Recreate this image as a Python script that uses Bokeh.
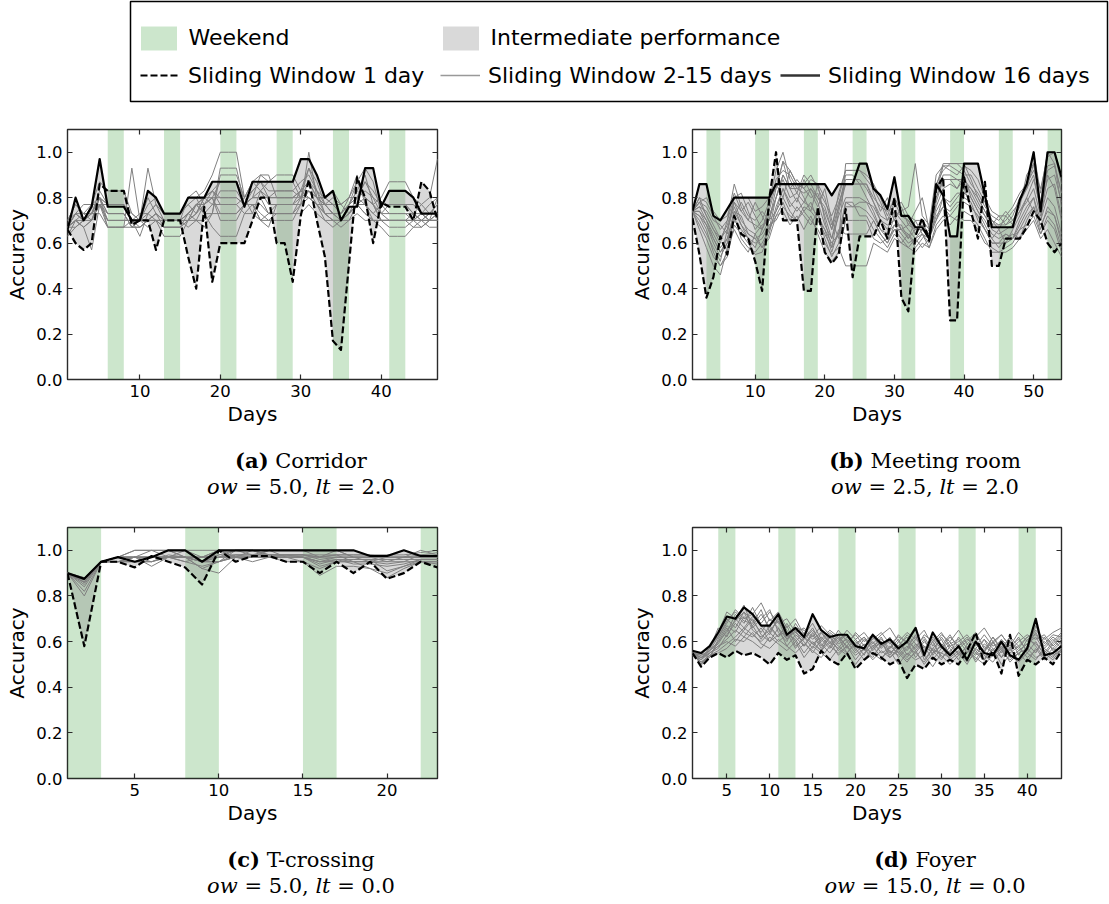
from bokeh.plotting import figure
from bokeh.models import (Range1d, FixedTicker, PrintfTickFormatter, BoxAnnotation,
                          Legend, LegendItem, Div, LinearAxis)
from bokeh.layouts import column, row
from bokeh.embed import file_html
from bokeh.resources import INLINE

# ---------------------------------------------------------------- data
panel_letters = ["a", "b", "c", "d"]
panel_names = ["Corridor", "Meeting room", "T-crossing", "Foyer"]
ow_values = ["5.0", "2.5", "5.0", "15.0"]
lt_values = ["2.0", "2.0", "0.0", "0.0"]
n_days = [47, 54, 23, 44]
x_ticks = [[10, 20, 30, 40], [10, 20, 30, 40, 50], [5, 10, 15, 20], [5, 10, 15, 20, 25, 30, 35, 40]]
y_ticks = [0.0, 0.2, 0.4, 0.6, 0.8, 1.0]
weekend_len = 2
weekend_a = [6, 13, 20, 27, 34, 41]
weekend_b = [3, 10, 17, 24, 31, 38, 45, 52]
weekend_c = [1, 8, 15, 22]
weekend_d = [4, 11, 18, 25, 32, 39]

sw1_a = [0.66, 0.60, 0.57, 0.60, 0.86, 0.83, 0.83, 0.83, 0.68, 0.70,
         0.70, 0.57, 0.70, 0.70, 0.70, 0.54, 0.40, 0.76, 0.43, 0.60,
         0.60, 0.60, 0.60, 0.70, 0.80, 0.80, 0.60, 0.60, 0.43, 0.72,
         0.88, 0.70, 0.54, 0.17, 0.13, 0.51, 0.89, 0.80, 0.60, 0.78,
         0.76, 0.76, 0.76, 0.70, 0.87, 0.83, 0.70]
sw16_a = [0.66, 0.80, 0.70, 0.76, 0.97, 0.76, 0.76, 0.76, 0.70, 0.70,
          0.83, 0.80, 0.73, 0.73, 0.73, 0.80, 0.80, 0.80, 0.87, 0.87,
          0.87, 0.87, 0.76, 0.87, 0.87, 0.87, 0.87, 0.87, 0.87, 0.97,
          0.97, 0.90, 0.80, 0.83, 0.70, 0.76, 0.76, 0.93, 0.93, 0.76,
          0.83, 0.83, 0.83, 0.80, 0.73, 0.73, 0.73]
gray_a = [
    [0.67, 0.73, 0.70, 0.77, 0.80, 0.77, 0.77, 0.77, 0.70, 0.70,
     0.73, 0.77, 0.70, 0.70, 0.70, 0.73, 0.77, 0.80, 0.83, 0.87,
     0.87, 0.87, 0.80, 0.83, 0.87, 0.83, 0.83, 0.83, 0.83, 0.87,
     0.90, 0.83, 0.80, 0.77, 0.73, 0.77, 0.80, 0.83, 0.80, 0.77,
     0.77, 0.77, 0.77, 0.73, 0.70, 0.73, 0.77],
    [0.67, 0.70, 0.67, 0.57, 0.77, 0.73, 0.73, 0.73, 0.67, 0.67,
     0.70, 0.73, 0.67, 0.67, 0.67, 0.70, 0.73, 0.77, 0.80, 0.80,
     0.80, 0.80, 0.77, 0.80, 0.83, 0.80, 0.80, 0.80, 0.80, 0.83,
     0.87, 0.80, 0.77, 0.73, 0.70, 0.73, 0.77, 0.80, 0.77, 0.73,
     0.70, 0.70, 0.70, 0.70, 0.67, 0.70, 0.73],
    [0.70, 0.77, 0.73, 0.73, 0.80, 0.67, 0.67, 0.67, 0.93, 0.70,
     0.67, 0.70, 0.63, 0.63, 0.63, 0.70, 0.77, 0.73, 0.77, 0.77,
     0.77, 0.77, 0.73, 0.77, 0.70, 0.67, 0.77, 0.77, 0.77, 0.80,
     0.80, 0.77, 0.73, 0.70, 0.70, 0.73, 0.77, 0.77, 0.73, 0.70,
     0.67, 0.67, 0.67, 0.70, 0.73, 0.70, 0.70],
    [0.67, 0.73, 0.73, 0.77, 0.87, 0.83, 0.83, 0.83, 0.73, 0.70,
     0.93, 0.77, 0.73, 0.73, 0.73, 0.77, 0.80, 0.83, 0.90, 1.00,
     1.00, 1.00, 0.80, 0.87, 0.90, 0.87, 0.90, 0.90, 0.90, 0.83,
     0.80, 0.77, 0.77, 0.80, 0.77, 0.80, 0.87, 0.80, 0.77, 0.80,
     0.87, 0.87, 0.87, 0.80, 0.77, 0.80, 0.97],
    [0.63, 0.67, 0.70, 0.70, 0.77, 0.77, 0.77, 0.77, 0.70, 0.63,
     0.73, 0.70, 0.70, 0.70, 0.70, 0.67, 0.70, 0.70, 0.73, 0.93,
     0.93, 0.93, 0.77, 0.80, 0.80, 0.73, 0.73, 0.73, 0.73, 0.77,
     1.00, 0.80, 0.73, 0.70, 0.70, 0.77, 0.83, 0.90, 0.77, 0.70,
     0.70, 0.70, 0.70, 0.67, 0.67, 0.70, 0.80],
    [0.67, 0.70, 0.67, 0.70, 0.80, 0.73, 0.73, 0.73, 0.67, 0.70,
     0.70, 0.73, 0.70, 0.70, 0.70, 0.73, 0.70, 0.67, 0.73, 0.90,
     0.90, 0.90, 0.80, 0.73, 0.83, 0.87, 0.87, 0.87, 0.87, 0.80,
     0.93, 0.83, 0.77, 0.73, 0.73, 0.80, 0.90, 0.77, 0.73, 0.77,
     0.73, 0.73, 0.73, 0.73, 0.70, 0.73, 0.73],
    [0.70, 0.73, 0.70, 0.73, 0.80, 0.70, 0.70, 0.70, 0.70, 0.67,
     0.70, 0.70, 0.70, 0.70, 0.70, 0.70, 0.73, 0.80, 0.77, 0.83,
     0.83, 0.83, 0.77, 0.77, 0.73, 0.70, 0.70, 0.70, 0.70, 0.77,
     0.83, 0.77, 0.70, 0.70, 0.67, 0.70, 0.73, 0.70, 0.70, 0.70,
     0.70, 0.70, 0.70, 0.70, 0.70, 0.70, 0.70],
    [0.67, 0.73, 0.77, 0.77, 0.77, 0.67, 0.67, 0.67, 0.70, 0.70,
     0.80, 0.73, 0.70, 0.70, 0.70, 0.80, 0.83, 0.77, 0.80, 0.70,
     0.70, 0.70, 0.77, 0.83, 0.87, 0.80, 0.80, 0.80, 0.80, 0.80,
     0.83, 0.80, 0.80, 0.77, 0.77, 0.73, 0.80, 0.87, 0.83, 0.77,
     0.77, 0.77, 0.77, 0.73, 0.73, 0.70, 0.70],
    [0.67, 0.70, 0.73, 0.73, 0.83, 0.77, 0.77, 0.77, 0.73, 0.70,
     0.77, 0.80, 0.73, 0.73, 0.73, 0.77, 0.73, 0.80, 0.83, 0.77,
     0.77, 0.77, 0.80, 0.87, 0.83, 0.77, 0.77, 0.77, 0.77, 0.83,
     0.93, 0.87, 0.77, 0.73, 0.70, 0.77, 0.87, 0.93, 0.87, 0.73,
     0.77, 0.77, 0.77, 0.77, 0.73, 0.77, 0.80],
    [0.67, 0.67, 0.70, 0.73, 0.73, 0.67, 0.67, 0.67, 0.67, 0.67,
     0.70, 0.70, 0.67, 0.67, 0.67, 0.70, 0.77, 0.73, 0.67, 0.63,
     0.63, 0.63, 0.73, 0.73, 0.70, 0.70, 0.73, 0.73, 0.73, 0.73,
     0.77, 0.73, 0.70, 0.67, 0.70, 0.70, 0.77, 0.73, 0.70, 0.67,
     0.63, 0.63, 0.63, 0.67, 0.70, 0.67, 0.67],
    [0.70, 0.77, 0.73, 0.70, 0.80, 0.77, 0.77, 0.77, 0.70, 0.73,
     0.73, 0.77, 0.73, 0.73, 0.73, 0.80, 0.80, 0.73, 0.73, 0.73,
     0.73, 0.73, 0.77, 0.80, 0.90, 0.90, 0.80, 0.80, 0.80, 0.83,
     0.87, 0.80, 0.80, 0.83, 0.77, 0.80, 0.80, 0.87, 0.80, 0.73,
     0.73, 0.73, 0.73, 0.70, 0.73, 0.70, 0.73],
    [0.67, 0.73, 0.70, 0.73, 0.80, 0.73, 0.73, 0.73, 0.67, 0.70,
     0.70, 0.73, 0.70, 0.70, 0.70, 0.73, 0.77, 0.77, 0.80, 0.87,
     0.87, 0.87, 0.77, 0.80, 0.80, 0.80, 0.83, 0.83, 0.83, 0.80,
     0.83, 0.80, 0.77, 0.77, 0.73, 0.77, 0.83, 0.80, 0.77, 0.70,
     0.70, 0.70, 0.70, 0.70, 0.70, 0.70, 0.70],
    [0.63, 0.70, 0.70, 0.73, 0.77, 0.70, 0.70, 0.70, 0.70, 0.70,
     0.70, 0.70, 0.67, 0.67, 0.67, 0.73, 0.77, 0.80, 0.80, 0.73,
     0.73, 0.73, 0.77, 0.77, 0.70, 0.73, 0.77, 0.77, 0.77, 0.77,
     0.80, 0.77, 0.73, 0.73, 0.73, 0.77, 0.80, 0.77, 0.70, 0.70,
     0.70, 0.70, 0.70, 0.73, 0.77, 0.73, 0.77],
    [0.67, 0.70, 0.67, 0.70, 0.77, 0.70, 0.70, 0.70, 0.70, 0.70,
     0.70, 0.70, 0.70, 0.70, 0.70, 0.70, 0.70, 0.77, 0.83, 0.80,
     0.80, 0.80, 0.77, 0.77, 0.77, 0.73, 0.73, 0.73, 0.73, 0.80,
     0.87, 0.83, 0.73, 0.70, 0.70, 0.73, 0.77, 0.73, 0.70, 0.70,
     0.70, 0.70, 0.70, 0.70, 0.70, 0.70, 0.70],
]

sw1_b = [0.71, 0.55, 0.36, 0.45, 0.63, 0.55, 0.72, 0.64, 0.62, 0.52,
         0.39, 0.79, 1.00, 0.70, 0.70, 0.70, 0.39, 0.39, 0.76, 0.56,
         0.51, 0.55, 0.75, 0.45, 0.63, 0.63, 0.63, 0.70, 0.62, 0.80,
         0.36, 0.30, 0.63, 0.71, 0.61, 0.84, 0.89, 0.26, 0.26, 0.89,
         0.74, 0.62, 0.87, 0.50, 0.50, 0.62, 0.62, 0.62, 0.67, 0.74,
         0.70, 0.60, 0.56, 0.60]
sw16_b = [0.74, 0.86, 0.86, 0.72, 0.70, 0.75, 0.80, 0.80, 0.80, 0.80,
          0.80, 0.80, 0.86, 0.86, 0.86, 0.86, 0.86, 0.86, 0.86, 0.86,
          0.81, 0.86, 0.86, 0.86, 0.95, 0.95, 0.84, 0.81, 0.75, 0.89,
          0.72, 0.72, 0.67, 0.67, 0.62, 0.86, 0.81, 0.63, 0.63, 0.95,
          0.95, 0.95, 0.81, 0.67, 0.67, 0.67, 0.67, 0.79, 0.86, 1.00,
          0.74, 1.00, 1.00, 0.89]
gray_b = [
    [0.74, 0.80, 0.72, 0.66, 0.60, 0.70, 0.86, 0.76, 0.70, 0.78,
     0.72, 0.66, 0.80, 0.90, 0.84, 0.78, 0.88, 0.82, 0.76, 0.84,
     0.70, 0.62, 0.95, 0.95, 0.95, 0.95, 0.82, 0.74, 0.80, 0.70,
     0.76, 0.68, 0.74, 0.80, 0.66, 0.85, 0.95, 0.95, 0.95, 0.95,
     0.88, 0.80, 0.74, 0.70, 0.66, 0.72, 0.68, 0.78, 0.84, 1.00,
     0.82, 1.00, 1.00, 0.86],
    [0.74, 0.70, 0.64, 0.58, 0.52, 0.66, 0.76, 0.68, 0.62, 0.58,
     0.66, 0.74, 0.86, 0.80, 0.92, 0.86, 0.80, 0.74, 0.86, 0.70,
     0.58, 0.74, 0.86, 0.86, 0.86, 0.80, 0.74, 0.66, 0.62, 0.72,
     0.66, 0.62, 0.70, 0.64, 0.60, 0.78, 0.88, 0.88, 0.84, 0.90,
     0.80, 0.74, 0.68, 0.62, 0.66, 0.60, 0.66, 0.72, 0.80, 0.74,
     0.70, 0.90, 0.84, 0.70],
    [0.74, 0.66, 0.58, 0.50, 0.46, 0.58, 0.66, 0.60, 0.56, 0.64,
     0.58, 0.62, 0.72, 0.78, 0.70, 0.76, 0.72, 0.68, 0.74, 0.62,
     0.54, 0.60, 0.78, 0.78, 0.72, 0.72, 0.66, 0.62, 0.58, 0.64,
     0.60, 0.64, 0.58, 0.62, 0.66, 0.70, 0.80, 0.76, 0.80, 0.84,
     0.76, 0.72, 0.66, 0.60, 0.60, 0.64, 0.62, 0.68, 0.74, 0.80,
     0.66, 0.76, 0.72, 0.60],
    [0.74, 0.78, 0.76, 0.70, 0.68, 0.64, 0.80, 0.82, 0.74, 0.66,
     0.70, 0.78, 0.92, 1.00, 0.88, 0.82, 0.90, 0.86, 0.80, 0.76,
     0.66, 0.82, 0.92, 0.92, 0.92, 0.88, 0.84, 0.78, 0.70, 0.78,
     0.72, 0.70, 0.64, 0.70, 0.62, 0.86, 0.92, 0.95, 0.95, 0.92,
     0.86, 0.82, 0.76, 0.72, 0.70, 0.74, 0.70, 0.76, 0.90, 0.95,
     0.78, 1.00, 0.95, 0.82],
    [0.74, 0.72, 0.66, 0.56, 0.50, 0.54, 0.68, 0.64, 0.60, 0.55,
     0.56, 0.64, 0.76, 0.84, 0.76, 0.80, 0.74, 0.78, 0.70, 0.66,
     0.56, 0.66, 0.64, 0.64, 0.64, 0.64, 0.70, 0.64, 0.60, 0.68,
     0.64, 0.60, 0.62, 0.58, 0.62, 0.72, 0.76, 0.72, 0.76, 0.80,
     0.78, 0.70, 0.66, 0.62, 0.58, 0.62, 0.64, 0.62, 0.70, 0.76,
     0.64, 0.70, 0.66, 0.56],
    [0.74, 0.76, 0.70, 0.64, 0.58, 0.62, 0.72, 0.78, 0.72, 0.70,
     0.74, 0.70, 0.84, 0.96, 0.84, 0.88, 0.84, 0.80, 0.82, 0.72,
     0.62, 0.76, 0.90, 0.90, 0.86, 0.86, 0.78, 0.70, 0.66, 0.74,
     0.70, 0.66, 0.62, 0.66, 0.64, 0.80, 0.90, 0.90, 0.88, 0.86,
     0.84, 0.78, 0.72, 0.68, 0.72, 0.68, 0.72, 0.80, 0.84, 0.90,
     0.74, 0.94, 0.95, 0.76],
    [0.74, 0.74, 0.68, 0.60, 0.54, 0.60, 0.70, 0.66, 0.62, 0.60,
     0.62, 0.68, 0.70, 0.76, 0.72, 0.70, 0.74, 0.70, 0.66, 0.60,
     0.55, 0.58, 0.50, 0.50, 0.50, 0.50, 0.60, 0.58, 0.56, 0.62,
     0.60, 0.58, 0.56, 0.60, 0.58, 0.66, 0.70, 0.72, 0.70, 0.74,
     0.72, 0.68, 0.62, 0.56, 0.56, 0.56, 0.58, 0.62, 0.66, 0.70,
     0.62, 0.66, 0.60, 0.54],
    [0.74, 0.78, 0.80, 0.74, 0.70, 0.72, 0.82, 0.74, 0.78, 0.72,
     0.66, 0.76, 0.88, 0.92, 0.90, 0.84, 0.86, 0.90, 0.84, 0.78,
     0.72, 0.80, 0.92, 0.92, 0.92, 0.90, 0.86, 0.80, 0.72, 0.80,
     0.74, 0.76, 0.95, 0.72, 0.68, 0.90, 0.94, 0.92, 0.90, 0.94,
     0.92, 0.88, 0.80, 0.74, 0.72, 0.72, 0.76, 0.82, 0.86, 0.92,
     0.84, 0.98, 1.00, 0.90],
    [0.74, 0.68, 0.62, 0.54, 0.50, 0.56, 0.72, 0.62, 0.58, 0.56,
     0.60, 0.66, 0.72, 0.74, 0.68, 0.72, 0.66, 0.72, 0.64, 0.56,
     0.52, 0.56, 0.70, 0.70, 0.70, 0.70, 0.62, 0.60, 0.62, 0.66,
     0.62, 0.58, 0.62, 0.64, 0.58, 0.68, 0.72, 0.68, 0.72, 0.70,
     0.70, 0.66, 0.60, 0.58, 0.56, 0.58, 0.60, 0.66, 0.68, 0.72,
     0.64, 0.72, 0.68, 0.58],
    [0.74, 0.76, 0.74, 0.68, 0.62, 0.68, 0.78, 0.70, 0.66, 0.64,
     0.68, 0.70, 0.80, 0.88, 0.80, 0.82, 0.78, 0.84, 0.78, 0.68,
     0.62, 0.72, 0.80, 0.80, 0.80, 0.78, 0.76, 0.70, 0.68, 0.70,
     0.66, 0.68, 0.66, 0.68, 0.64, 0.76, 0.84, 0.86, 0.84, 0.88,
     0.82, 0.76, 0.72, 0.66, 0.64, 0.66, 0.68, 0.74, 0.78, 0.84,
     0.72, 0.84, 0.86, 0.72],
    [0.74, 0.72, 0.68, 0.62, 0.56, 0.60, 0.74, 0.72, 0.64, 0.62,
     0.64, 0.70, 0.74, 0.84, 0.78, 0.74, 0.78, 0.76, 0.72, 0.66,
     0.60, 0.64, 0.78, 0.76, 0.78, 0.78, 0.72, 0.66, 0.64, 0.68,
     0.68, 0.62, 0.66, 0.66, 0.62, 0.74, 0.80, 0.78, 0.82, 0.82,
     0.80, 0.74, 0.70, 0.64, 0.62, 0.64, 0.62, 0.70, 0.76, 0.80,
     0.70, 0.80, 0.76, 0.64],
    [0.74, 0.80, 0.78, 0.72, 0.66, 0.70, 0.80, 0.80, 0.80, 0.74,
     0.76, 0.80, 0.84, 0.96, 0.92, 0.86, 0.84, 0.88, 0.86, 0.80,
     0.68, 0.78, 0.86, 0.86, 0.86, 0.86, 0.80, 0.76, 0.74, 0.76,
     0.78, 0.72, 0.70, 0.70, 0.66, 0.82, 0.94, 0.94, 0.92, 0.90,
     0.90, 0.84, 0.78, 0.70, 0.68, 0.70, 0.74, 0.78, 0.84, 0.95,
     0.76, 0.92, 0.94, 0.82],
    [0.74, 0.74, 0.70, 0.62, 0.56, 0.62, 0.74, 0.68, 0.64, 0.62,
     0.58, 0.66, 0.74, 0.80, 0.74, 0.70, 0.76, 0.74, 0.70, 0.64,
     0.58, 0.64, 0.76, 0.76, 0.76, 0.74, 0.70, 0.64, 0.60, 0.66,
     0.66, 0.64, 0.60, 0.64, 0.62, 0.70, 0.76, 0.74, 0.78, 0.78,
     0.76, 0.72, 0.66, 0.60, 0.60, 0.60, 0.62, 0.66, 0.72, 0.76,
     0.68, 0.74, 0.72, 0.62],
    [0.74, 0.78, 0.72, 0.66, 0.62, 0.66, 0.78, 0.74, 0.70, 0.68,
     0.66, 0.72, 0.80, 0.90, 0.84, 0.84, 0.82, 0.84, 0.80, 0.74,
     0.66, 0.76, 0.88, 0.88, 0.88, 0.84, 0.78, 0.72, 0.70, 0.74,
     0.72, 0.70, 0.66, 0.66, 0.64, 0.80, 0.88, 0.88, 0.88, 0.88,
     0.84, 0.80, 0.74, 0.68, 0.68, 0.68, 0.70, 0.74, 0.80, 0.88,
     0.76, 0.88, 0.90, 0.78],
]

sw1_c = [0.90, 0.58, 0.95, 0.95, 0.925, 0.975, 0.95, 0.925, 0.85, 1.00,
         0.95, 0.975, 0.975, 0.95, 0.95, 0.90, 0.95, 0.90, 0.95, 0.875,
         0.90, 0.95, 0.925]
sw16_c = [0.90, 0.875, 0.95, 0.97, 0.95, 0.97, 1.00, 1.00, 0.95, 1.00,
          1.00, 1.00, 1.00, 1.00, 1.00, 1.00, 1.00, 1.00, 0.975, 0.975,
          1.00, 0.975, 0.975]
gray_c = [
    [0.90, 0.86, 0.95, 0.97, 1.00, 1.00, 0.97, 0.97, 0.95, 0.97, 1.00, 1.00, 0.97, 0.97, 0.97, 0.95, 0.97, 0.97, 0.97, 0.95, 0.97, 0.97, 0.97],
    [0.90, 0.80, 0.95, 0.95, 0.97, 1.00, 1.00, 0.97, 0.92, 0.90, 0.97, 0.97, 0.97, 0.97, 0.95, 0.92, 0.95, 0.95, 0.92, 0.90, 0.93, 0.95, 0.95],
    [0.90, 0.88, 0.95, 0.97, 0.97, 0.93, 0.97, 1.00, 0.97, 1.00, 0.97, 0.97, 1.00, 0.97, 0.97, 0.97, 1.00, 0.97, 0.95, 0.97, 0.97, 1.00, 0.98],
    [0.90, 0.87, 0.95, 0.97, 0.95, 0.97, 1.00, 1.00, 0.95, 0.97, 0.97, 0.97, 0.97, 0.97, 0.97, 0.93, 0.95, 0.96, 0.96, 0.96, 0.96, 0.96, 0.96],
    [0.90, 0.82, 0.95, 0.95, 0.95, 0.97, 0.97, 0.95, 0.93, 0.95, 0.97, 0.95, 0.97, 0.95, 0.95, 0.89, 0.93, 0.93, 0.92, 0.88, 0.92, 0.95, 0.94],
    [0.90, 0.87, 0.95, 0.97, 0.97, 0.97, 0.97, 0.97, 0.95, 0.98, 1.00, 0.98, 1.00, 1.00, 1.00, 0.97, 0.97, 0.97, 0.97, 0.97, 0.97, 0.97, 0.97],
    [0.90, 0.86, 0.95, 0.95, 0.97, 0.95, 0.98, 0.97, 0.97, 0.98, 0.98, 0.98, 0.98, 0.98, 0.98, 0.97, 0.98, 0.95, 0.95, 0.95, 0.95, 0.98, 0.99],
    [0.90, 0.88, 0.95, 0.97, 0.97, 0.97, 1.00, 1.00, 1.00, 1.00, 1.00, 1.00, 1.00, 1.00, 1.00, 1.00, 1.00, 0.97, 0.97, 0.97, 1.00, 0.97, 0.97],
    [0.90, 0.84, 0.95, 0.95, 0.95, 0.95, 0.97, 0.97, 0.92, 0.95, 0.98, 0.97, 0.97, 0.97, 0.97, 0.94, 0.96, 0.94, 0.94, 0.93, 0.94, 0.96, 0.96],
    [0.90, 0.87, 0.95, 0.97, 0.97, 0.97, 0.97, 0.95, 0.97, 1.00, 0.97, 1.00, 0.98, 0.98, 0.98, 0.98, 0.98, 0.98, 0.98, 0.98, 0.98, 0.99, 1.00],
    [0.90, 0.85, 0.95, 0.97, 0.95, 0.95, 0.97, 0.97, 0.95, 0.95, 0.97, 0.97, 0.97, 0.97, 0.97, 0.95, 0.95, 0.95, 0.95, 0.94, 0.95, 0.95, 0.95],
    [0.90, 0.86, 0.95, 0.95, 0.97, 0.97, 0.97, 0.97, 0.97, 0.97, 0.97, 0.97, 0.97, 0.98, 0.97, 0.95, 0.96, 0.96, 0.96, 0.91, 0.93, 0.96, 0.96],
    [0.90, 0.87, 0.95, 0.97, 1.00, 1.00, 1.00, 0.97, 0.95, 0.95, 1.00, 1.00, 0.98, 0.98, 0.98, 0.96, 0.97, 0.97, 0.97, 0.97, 0.97, 0.97, 0.97],
    [0.90, 0.86, 0.95, 0.97, 0.97, 0.97, 0.97, 0.97, 0.97, 0.97, 0.98, 0.98, 0.98, 0.98, 0.98, 0.97, 0.98, 0.98, 0.98, 0.97, 0.97, 0.98, 0.98],
]

sw1_d = [0.55, 0.49, 0.53, 0.55, 0.53, 0.56, 0.54, 0.55, 0.53, 0.50,
         0.55, 0.52, 0.54, 0.46, 0.48, 0.56, 0.52, 0.50, 0.55, 0.48,
         0.52, 0.55, 0.53, 0.50, 0.52, 0.44, 0.50, 0.48, 0.53, 0.50,
         0.52, 0.50, 0.56, 0.64, 0.50, 0.56, 0.46, 0.63, 0.45, 0.52,
         0.50, 0.53, 0.50, 0.56]
sw16_d = [0.56, 0.55, 0.58, 0.64, 0.71, 0.70, 0.75, 0.72, 0.67, 0.67,
          0.72, 0.63, 0.66, 0.62, 0.72, 0.65, 0.62, 0.63, 0.63, 0.58,
          0.57, 0.63, 0.59, 0.61, 0.57, 0.60, 0.66, 0.54, 0.64, 0.58,
          0.54, 0.58, 0.52, 0.60, 0.55, 0.54, 0.60, 0.54, 0.52, 0.57,
          0.70, 0.54, 0.55, 0.58]
gray_d = [
    [0.55, 0.52, 0.57, 0.63, 0.70, 0.66, 0.73, 0.69, 0.64, 0.70,
     0.66, 0.61, 0.65, 0.58, 0.63, 0.57, 0.62, 0.56, 0.60, 0.55,
     0.59, 0.54, 0.58, 0.62, 0.55, 0.60, 0.53, 0.58, 0.52, 0.57,
     0.60, 0.54, 0.58, 0.51, 0.56, 0.60, 0.53, 0.57, 0.62, 0.55,
     0.60, 0.54, 0.59, 0.63],
    [0.55, 0.55, 0.53, 0.60, 0.64, 0.72, 0.68, 0.75, 0.67, 0.63,
     0.71, 0.65, 0.60, 0.64, 0.59, 0.62, 0.58, 0.63, 0.57, 0.61,
     0.56, 0.60, 0.55, 0.57, 0.61, 0.54, 0.59, 0.55, 0.60, 0.53,
     0.56, 0.59, 0.52, 0.57, 0.61, 0.54, 0.58, 0.53, 0.56, 0.59,
     0.55, 0.62, 0.56, 0.60],
    [0.56, 0.50, 0.55, 0.58, 0.61, 0.65, 0.62, 0.67, 0.72, 0.66,
     0.62, 0.67, 0.58, 0.61, 0.66, 0.59, 0.55, 0.60, 0.63, 0.56,
     0.61, 0.57, 0.62, 0.55, 0.58, 0.62, 0.56, 0.61, 0.54, 0.59,
     0.55, 0.62, 0.57, 0.54, 0.59, 0.56, 0.61, 0.57, 0.52, 0.58,
     0.64, 0.57, 0.61, 0.57],
    [0.55, 0.53, 0.57, 0.66, 0.62, 0.70, 0.76, 0.66, 0.70, 0.74,
     0.64, 0.60, 0.68, 0.62, 0.57, 0.64, 0.60, 0.57, 0.62, 0.59,
     0.54, 0.62, 0.58, 0.60, 0.53, 0.57, 0.63, 0.52, 0.57, 0.61,
     0.54, 0.58, 0.62, 0.56, 0.52, 0.60, 0.55, 0.60, 0.57, 0.62,
     0.58, 0.53, 0.57, 0.61],
    [0.54, 0.51, 0.54, 0.56, 0.59, 0.62, 0.66, 0.63, 0.60, 0.64,
     0.60, 0.63, 0.61, 0.55, 0.60, 0.56, 0.60, 0.54, 0.58, 0.52,
     0.57, 0.55, 0.52, 0.58, 0.55, 0.51, 0.56, 0.50, 0.55, 0.58,
     0.52, 0.55, 0.50, 0.57, 0.54, 0.51, 0.56, 0.52, 0.55, 0.51,
     0.57, 0.52, 0.55, 0.58],
    [0.55, 0.54, 0.58, 0.62, 0.68, 0.74, 0.70, 0.72, 0.77, 0.69,
     0.73, 0.66, 0.70, 0.63, 0.68, 0.61, 0.65, 0.62, 0.58, 0.64,
     0.60, 0.63, 0.57, 0.61, 0.58, 0.63, 0.59, 0.56, 0.62, 0.58,
     0.63, 0.57, 0.60, 0.64, 0.57, 0.59, 0.63, 0.58, 0.61, 0.56,
     0.67, 0.59, 0.63, 0.62],
    [0.56, 0.52, 0.56, 0.60, 0.66, 0.60, 0.65, 0.70, 0.63, 0.60,
     0.66, 0.58, 0.63, 0.60, 0.55, 0.61, 0.57, 0.62, 0.55, 0.59,
     0.62, 0.56, 0.60, 0.54, 0.60, 0.56, 0.61, 0.58, 0.55, 0.62,
     0.57, 0.52, 0.59, 0.55, 0.61, 0.57, 0.53, 0.60, 0.56, 0.59,
     0.62, 0.56, 0.53, 0.59],
    [0.55, 0.53, 0.55, 0.58, 0.60, 0.58, 0.62, 0.60, 0.57, 0.62,
     0.59, 0.56, 0.60, 0.53, 0.58, 0.55, 0.52, 0.57, 0.54, 0.50,
     0.55, 0.58, 0.53, 0.56, 0.50, 0.55, 0.52, 0.54, 0.49, 0.55,
     0.53, 0.56, 0.51, 0.55, 0.52, 0.57, 0.50, 0.54, 0.51, 0.55,
     0.52, 0.57, 0.54, 0.56],
    [0.55, 0.55, 0.57, 0.64, 0.73, 0.70, 0.66, 0.71, 0.68, 0.73,
     0.68, 0.70, 0.64, 0.66, 0.62, 0.67, 0.63, 0.60, 0.65, 0.61,
     0.64, 0.59, 0.63, 0.66, 0.60, 0.64, 0.61, 0.65, 0.58, 0.63,
     0.60, 0.65, 0.59, 0.62, 0.66, 0.60, 0.63, 0.58, 0.64, 0.60,
     0.65, 0.61, 0.64, 0.66],
    [0.54, 0.52, 0.55, 0.57, 0.63, 0.68, 0.64, 0.62, 0.66, 0.60,
     0.63, 0.64, 0.57, 0.62, 0.59, 0.56, 0.62, 0.58, 0.55, 0.60,
     0.57, 0.53, 0.59, 0.56, 0.54, 0.58, 0.55, 0.60, 0.56, 0.52,
     0.58, 0.55, 0.57, 0.52, 0.58, 0.55, 0.59, 0.55, 0.58, 0.53,
     0.56, 0.60, 0.57, 0.55],
    [0.55, 0.51, 0.53, 0.61, 0.67, 0.64, 0.71, 0.67, 0.61, 0.67,
     0.62, 0.68, 0.62, 0.58, 0.64, 0.58, 0.63, 0.59, 0.61, 0.57,
     0.52, 0.57, 0.60, 0.53, 0.57, 0.53, 0.58, 0.62, 0.56, 0.55,
     0.59, 0.61, 0.55, 0.60, 0.56, 0.62, 0.57, 0.62, 0.54, 0.61,
     0.59, 0.55, 0.60, 0.64],
    [0.55, 0.54, 0.56, 0.59, 0.65, 0.69, 0.73, 0.65, 0.62, 0.65,
     0.69, 0.61, 0.66, 0.65, 0.61, 0.64, 0.59, 0.65, 0.60, 0.63,
     0.58, 0.61, 0.64, 0.59, 0.62, 0.60, 0.57, 0.63, 0.60, 0.64,
     0.58, 0.60, 0.63, 0.58, 0.63, 0.58, 0.60, 0.56, 0.60, 0.63,
     0.61, 0.63, 0.58, 0.62],
    [0.55, 0.50, 0.54, 0.55, 0.57, 0.61, 0.60, 0.64, 0.59, 0.57,
     0.61, 0.58, 0.55, 0.59, 0.56, 0.53, 0.58, 0.55, 0.58, 0.54,
     0.57, 0.52, 0.56, 0.53, 0.56, 0.52, 0.55, 0.51, 0.57, 0.54,
     0.50, 0.54, 0.56, 0.53, 0.50, 0.54, 0.57, 0.51, 0.55, 0.57,
     0.53, 0.55, 0.52, 0.57],
    [0.55, 0.53, 0.56, 0.62, 0.69, 0.73, 0.69, 0.68, 0.74, 0.64,
     0.70, 0.62, 0.64, 0.61, 0.65, 0.60, 0.64, 0.61, 0.63, 0.58,
     0.62, 0.58, 0.61, 0.57, 0.63, 0.59, 0.62, 0.57, 0.61, 0.57,
     0.62, 0.58, 0.61, 0.59, 0.55, 0.62, 0.56, 0.62, 0.58, 0.62,
     0.63, 0.58, 0.62, 0.59],
]

legend_labels = ["Weekend", "Intermediate performance", "Sliding Window 1 day",
                 "Sliding Window 2-15 days", "Sliding Window 16 days"]

# ---------------------------------------------------------------- style
FRAME = "#2b2b2b"
SANS = "DejaVu Sans"
NAN = float("nan")


def style_axis(ax, tick_labels=True):
    ax.major_tick_in = 5
    ax.major_tick_out = 0
    ax.minor_tick_line_color = None
    ax.axis_line_color = None
    ax.major_tick_line_color = FRAME
    ax.major_tick_line_width = 1.2
    ax.major_label_text_font = SANS
    ax.major_label_text_font_size = "16.5px"
    ax.major_label_text_color = "black" if tick_labels else None
    ax.axis_label_text_font = SANS
    ax.axis_label_text_font_size = "20px"
    ax.axis_label_text_font_style = "normal"
    ax.axis_label_text_color = "black"


def make_panel(n, sw1, sw16, grays, weekends, xt, width, height, bl, br, bt, bb):
    days = list(range(1, n + 1))
    p = figure(width=width, height=height, x_range=Range1d(1, n), y_range=Range1d(0, 1.1),
               output_backend="svg", toolbar_location=None,
               min_border_left=bl, min_border_right=br, min_border_top=bt, min_border_bottom=bb)
    p.xgrid.visible = False
    p.ygrid.visible = False
    p.outline_line_color = FRAME
    p.outline_line_width = 1.4
    p.outline_line_alpha = 1.0
    p.background_fill_color = "white"
    p.border_fill_color = "white"
    for s in weekends:
        p.add_layout(BoxAnnotation(left=s, right=min(s + weekend_len, n), fill_color="green",
                                   fill_alpha=0.2, line_color=None, level="underlay"))
    p.varea(x=days, y1=sw1, y2=sw16, fill_color="gray", fill_alpha=0.3)
    p.multi_line(xs=[days] * len(grays), ys=grays, line_color="gray", line_width=1)
    p.line(days, sw1, line_color="black", line_width=2.2, line_dash="7 3", line_join="round")
    p.line(days, sw16, line_color="black", line_width=2.2, line_join="round")

    xa = p.xaxis[0]
    ya = p.yaxis[0]
    style_axis(xa)
    style_axis(ya)
    xa.ticker = FixedTicker(ticks=xt)
    xa.axis_label = "Days"
    xa.axis_label_standoff = 2
    ya.ticker = FixedTicker(ticks=y_ticks)
    ya.formatter = PrintfTickFormatter(format="%.1f")
    ya.axis_label = "Accuracy"
    ya.axis_label_standoff = 4
    top = LinearAxis(ticker=FixedTicker(ticks=xt))
    style_axis(top, tick_labels=False)
    p.add_layout(top, "above")
    right = LinearAxis(ticker=FixedTicker(ticks=y_ticks))
    style_axis(right, tick_labels=False)
    p.add_layout(right, "right")
    return p


def caption(i, width, height, center):
    html = ('<div style="width:300px;margin-left:%dpx;text-align:center;'
            "font-family:'DejaVu Serif',serif;font-size:21px;line-height:26px;"
            'padding-top:13px;color:#000;">'
            '<b>(%s)</b> %s<br><i>ow</i> = %s, <i>lt</i> = %s</div>'
            % (center - 150, panel_letters[i], panel_names[i], ow_values[i], lt_values[i]))
    return Div(text=html, width=width, height=height, margin=(0, 0, 0, 0))


# ---------------------------------------------------------------- legend
lf = figure(width=1109, height=105, x_range=Range1d(0, 1), y_range=Range1d(0, 1),
            x_axis_type=None, y_axis_type=None, output_backend="svg", toolbar_location=None,
            min_border_left=130, min_border_right=2, min_border_top=1, min_border_bottom=4)
lf.outline_line_color = "black"
lf.outline_line_width = 1.5
lf.outline_line_alpha = 1.0
r_week = lf.quad(left=[NAN], right=[NAN], top=[NAN], bottom=[NAN],
                 fill_color="green", fill_alpha=0.2, line_color=None)
r_inter = lf.quad(left=[NAN], right=[NAN], top=[NAN], bottom=[NAN],
                  fill_color="gray", fill_alpha=0.3, line_color=None)
r_sw1 = lf.line(x=[NAN], y=[NAN], line_color="black", line_width=2, line_dash="7 3")
r_sw2 = lf.line(x=[NAN], y=[NAN], line_color="#999999", line_width=1.6)
r_sw16 = lf.line(x=[NAN], y=[NAN], line_color="#333333", line_width=2.6)

legend_specs = [
    (legend_labels[0], r_week, (5.5, 48.5), 45),
    (legend_labels[1], r_inter, (307.5, 48.5), 45),
    (legend_labels[2], r_sw1, (10, 11), 40),
    (legend_labels[3], r_sw2, (310, 11), 40),
    (legend_labels[4], r_sw16, (650, 11), 40),
]
for label, rend, loc, gw in legend_specs:
    lg = Legend(items=[LegendItem(label=label, renderers=[rend])], location=loc,
                glyph_width=gw, glyph_height=30, label_height=30, label_standoff=8,
                label_text_font=SANS, label_text_font_size="22px", label_text_color="black",
                padding=0, margin=0, spacing=0, border_line_color=None,
                background_fill_alpha=0.0)
    lf.add_layout(lg)

# ---------------------------------------------------------------- panels
fa = make_panel(n_days[0], sw1_a, sw16_a, gray_a, weekend_a, x_ticks[0], 555, 330, 67, 118, 24, 56)
fb = make_panel(n_days[1], sw1_b, sw16_b, gray_b, weekend_b, x_ticks[1], 554, 330, 137, 48, 24, 56)
fc = make_panel(n_days[2], sw1_c, sw16_c, gray_c, weekend_c, x_ticks[2], 555, 317, 67, 118, 10, 56)
fd = make_panel(n_days[3], sw1_d, sw16_d, gray_d, weekend_d, x_ticks[3], 554, 317, 137, 48, 10, 56)

layout = column(
    lf,
    row(fa, fb),
    row(caption(0, 555, 82, 301), caption(1, 554, 82, 370)),
    row(fc, fd),
    row(caption(2, 555, 70, 301), caption(3, 554, 70, 370)),
)

open("out.html", "w").write(file_html(layout, INLINE, title="Sliding window accuracy"))
